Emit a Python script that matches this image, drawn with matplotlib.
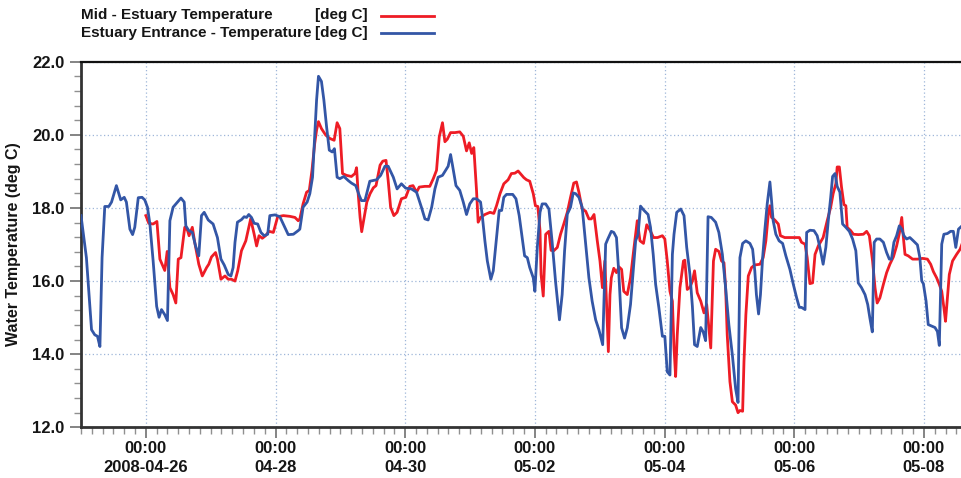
import numpy as np
import pandas as pd
import matplotlib
matplotlib.use('Agg')
import matplotlib.pyplot as plt
import matplotlib.dates as mdates
from matplotlib.lines import Line2D
from matplotlib.ticker import MultipleLocator, FormatStrFormatter, FixedLocator, FuncFormatter

plt.rcParams['font.family'] = ['Liberation Sans', 'DejaVu Sans']
plt.rcParams['font.weight'] = 'bold'

# time axis: hours since 2008-04-26 00:00
t0 = pd.Timestamp('2008-04-26 00:00')

# Estuary Entrance - Temperature (blue)
entrance_hours = [
    -24.0, -22.0, -20.1, -18.9, -17.9, -17.0, -16.2, -15.2, -13.7, -12.7, -10.9, -9.3, -8.0, -7.2,
    -5.9, -4.9, -4.1, -2.8, -1.4, -0.4, 0.6, 1.5, 2.7, 4.0, 4.9, 5.8, 7.0, 8.0, 8.9, 10.1, 11.4,
    13.0, 14.2, 14.8, 15.9, 17.2, 18.4, 19.6, 20.6, 21.6, 23.1, 24.9, 26.5, 27.8, 29.0, 30.5, 31.5,
    32.3, 33.0, 33.9, 35.4, 36.4, 37.3, 38.1, 39.1, 40.1, 41.4, 42.6, 43.8, 45.1, 45.9, 47.8, 49.6,
    51.2, 52.7, 54.6, 56.4,
    57.0, 58.2, 59.7, 60.7, 61.7, 62.5, 63.2, 63.9, 65.0, 65.9, 66.9, 67.9, 69.0, 69.8, 70.8, 71.8,
    73.3, 74.9, 76.1, 77.7, 79.0, 79.8, 81.1, 82.9, 85.4, 86.9, 88.5, 89.7, 91.6, 93.0, 94.6, 96.2,
    98.3, 100.2, 102.0, 103.3, 104.5, 105.8, 107.0, 108.2, 109.8, 111.3, 111.9, 112.8, 113.5, 114.8,
    116.2, 117.5, 118.7, 119.9, 121.2, 122.4, 123.9, 124.6, 125.5, 126.4, 127.7, 128.6, 129.8, 130.8,
    131.7, 132.5, 133.5, 135.8, 137.0, 138.2,
    139.3, 140.2, 141.2, 142.1, 143.4, 144.0, 144.9, 145.9, 146.7, 148.0, 149.2, 150.4, 151.7, 153.1,
    154.1, 155.0, 156.0, 157.2, 158.2, 159.1, 160.3, 161.5, 162.8, 164.0, 165.2, 166.5, 167.7, 169.1,
    170.2, 171.0, 172.3, 173.2, 174.2, 175.1, 176.1, 177.2, 178.2, 179.4, 180.7, 181.3, 182.2, 183.1,
    184.3, 185.9, 186.8, 187.8, 188.7, 189.9, 191.2, 192.1, 193.0, 194.0, 194.9, 195.5, 196.5, 198.0,
    199.2, 200.2, 201.4, 202.3, 203.1, 204.1, 205.4, 206.3, 207.2, 208.1, 209.3, 210.9, 212.1, 213.4,
    214.6, 215.8, 217.1, 218.3, 219.2,
    219.9, 220.9, 222.1, 223.6, 224.6, 225.4, 226.0, 226.8, 227.5, 228.3, 229.1, 230.0, 231.0, 231.6,
    232.2, 233.2, 234.4, 235.7, 236.9, 238.4, 239.6, 240.9, 241.9, 242.7, 244.0, 244.6, 245.8, 247.3,
    248.5, 249.5, 250.7, 251.7, 252.6, 253.5, 254.2, 255.1, 255.9, 256.9, 257.9, 259.1, 260.4, 261.6,
    262.8, 263.7, 264.9, 266.2, 267.2, 268.0, 268.9, 269.6, 270.5, 271.7, 273.0, 274.2, 275.2, 276.0,
    276.9, 277.9, 278.9, 279.8, 280.6, 281.6, 282.8, 284.1, 285.6, 286.5, 287.2, 287.8, 288.8, 289.6,
    290.9, 292.1, 293.0, 293.7, 294.6, 295.4, 296.7, 297.9, 298.9, 299.8, 300.8, 302.1,
]
entrance_temp = [
    17.79, 16.64, 14.67, 14.53, 14.49, 14.21, 16.64, 18.04, 18.04, 18.16, 18.61, 18.22, 18.29, 18.16,
    17.42, 17.27, 17.47, 18.28, 18.29, 18.22, 18.02, 17.56, 16.55, 15.31, 15.01, 15.22, 15.08, 14.92,
    17.65, 18.02, 18.13, 18.27, 18.16, 17.51, 17.38, 17.33, 16.96, 16.69, 17.79, 17.88, 17.67, 17.56,
    17.19, 16.60, 16.44, 16.18, 16.14, 16.37, 17.06, 17.61, 17.68, 17.76, 17.74, 17.82, 17.74, 17.58,
    17.56, 17.33, 17.24, 17.28, 17.79, 17.81, 17.76, 17.51, 17.27, 17.28, 17.38,
    17.42, 18.02, 18.16, 18.39, 18.84, 19.94, 20.95, 21.60, 21.46, 20.95, 20.22, 19.58, 19.53, 19.62,
    18.84, 18.80, 18.86, 18.75, 18.68, 18.61, 18.34, 18.20, 18.20, 18.73, 18.77, 18.89, 19.14, 19.14,
    18.84, 18.52, 18.66, 18.54, 18.52, 18.43, 18.02, 17.70, 17.67, 18.02, 18.52, 18.84, 18.89, 19.07,
    19.14, 19.46, 19.17, 18.61, 18.48, 18.16, 17.82, 18.11, 18.25, 18.25, 18.16, 17.74, 17.10, 16.55,
    16.05, 16.28, 17.19, 17.93, 17.93, 18.29, 18.37, 18.37, 18.25, 17.79,
    17.19, 16.69, 16.64, 16.37, 16.09, 15.72, 16.92, 17.88, 18.11, 18.11, 17.97, 17.06, 15.95, 14.94,
    15.63, 16.83, 17.83, 18.02, 18.41, 18.39, 18.29, 18.02, 17.01, 16.09, 15.45, 14.94, 14.67, 14.26,
    17.01, 17.15, 17.36, 17.33, 17.19, 16.18, 14.72, 14.44, 14.72, 15.36, 16.55, 17.10, 17.28, 18.05,
    17.94, 17.82, 17.47, 16.73, 15.91, 15.27, 14.49, 14.49, 13.52, 13.43, 16.73, 17.28, 17.88, 17.97,
    17.79, 16.92, 16.18, 15.31, 14.26, 14.21, 14.73, 14.61, 14.37, 17.76, 17.74, 17.61, 17.33, 16.73,
    15.82, 14.81, 13.98, 13.06, 12.68,
    16.64, 17.03, 17.10, 17.03, 16.87, 16.28, 15.63, 15.10, 15.63, 16.64, 17.38, 18.11, 18.71, 18.20,
    17.65, 17.28, 17.10, 17.03, 16.69, 16.32, 15.93, 15.54, 15.28, 15.28, 15.22, 17.33, 17.39, 17.38,
    17.24, 16.92, 16.46, 16.92, 17.65, 18.29, 18.86, 18.94, 18.59, 18.43, 17.56, 17.47, 17.36, 17.15,
    16.83, 15.95, 15.82, 15.63, 15.36, 14.99, 14.61, 17.06, 17.15, 17.15, 17.06, 16.78, 16.60, 16.60,
    17.06, 17.24, 17.51, 17.42, 17.24, 17.15, 17.19, 17.10, 16.99, 16.64, 16.00, 15.93, 15.45, 14.81,
    14.77, 14.73, 14.62, 14.24, 17.01, 17.28, 17.30, 17.36, 17.36, 16.92, 17.42, 17.51,
]

# Mid - Estuary Temperature (red)
mid_hours = [
    0.0, 1.1, 2.7, 4.1, 5.2, 6.0, 7.0, 7.9, 8.9, 10.1, 11.1, 12.0, 13.0, 14.4, 15.4, 16.0, 17.2,
    18.1, 19.6, 20.9, 22.5, 23.3, 24.3, 25.8, 26.5, 27.8, 29.3, 30.5, 31.7, 33.0, 34.0, 35.4, 37.0,
    38.8, 40.1, 41.0, 41.9, 43.1, 44.3, 45.6, 47.2, 48.8, 50.9, 53.3, 55.2, 56.4,
    57.0, 58.2, 59.5, 60.5, 61.5, 62.5, 63.2, 63.9, 65.0, 66.6, 68.1, 69.7, 70.8, 71.8, 72.8, 74.3,
    76.1, 77.4, 78.0, 78.6, 79.3, 79.9, 80.8, 81.8, 83.0, 84.2, 85.2, 86.7, 87.7, 88.9, 89.7, 90.6,
    91.8, 93.0, 94.6, 96.2, 97.7, 98.9, 100.2, 101.2, 103.3, 105.1, 106.4, 107.6, 108.6, 109.8, 110.7,
    111.6, 112.8, 114.4, 116.2, 117.5, 118.7, 119.7, 120.6, 121.4, 122.4, 123.0, 123.9, 125.5, 127.4,
    128.8, 129.8, 131.1, 132.5, 134.1, 135.3, 136.6, 137.8,
    139.9, 140.9, 142.1, 143.4, 144.2, 145.1, 145.9, 146.3, 147.1, 148.0, 149.2, 150.0, 151.0, 152.3,
    153.5, 154.7, 156.0, 157.2, 158.4, 159.4, 160.3, 161.5, 162.8, 164.0, 164.9, 165.9, 167.1, 168.1,
    169.0, 169.9, 170.5, 171.2, 171.8, 172.3, 173.2, 174.2, 175.1, 176.1, 176.9, 178.2, 179.4, 180.7,
    181.9, 182.9, 184.2, 185.4, 186.7, 187.9, 189.4, 191.2, 192.1, 193.0, 194.0, 194.9, 195.5, 196.1,
    196.7, 197.7, 199.0, 199.5, 200.4, 201.4, 202.3, 203.1, 204.1, 205.4, 206.6, 207.6, 208.4, 209.1,
    210.1, 210.9, 212.1, 213.1, 214.0, 214.6, 215.2, 216.2, 217.1, 218.3, 219.2,
    219.9, 220.9, 221.4, 222.1, 223.0, 224.2, 225.4, 227.3, 228.5, 229.5, 230.4, 231.0, 231.6, 232.8,
    234.1, 234.9, 236.5, 238.4, 241.9, 242.7, 244.0, 244.8, 245.8, 246.8, 247.7, 248.9, 250.7, 252.2,
    253.5, 254.4, 255.4, 255.9, 256.7, 257.5, 258.4, 259.1, 259.6, 260.9, 261.9, 263.7, 265.6, 266.8,
    267.8, 269.0, 269.9, 270.7, 271.7, 273.0, 274.2, 275.4, 276.7, 277.9, 278.9, 279.8, 280.4, 281.0,
    282.2, 283.8, 285.6, 287.5, 289.3, 290.5, 291.5, 292.7, 293.7, 294.6, 295.4, 296.0, 296.7, 297.4,
    298.6, 300.1, 301.4, 302.1,
]
mid_temp = [
    17.79, 17.58, 17.56, 17.63, 16.60, 16.46, 16.29, 16.81, 15.82, 15.63, 15.40, 16.60, 16.64, 17.47,
    17.39, 17.24, 17.47, 17.06, 16.46, 16.14, 16.37, 16.46, 16.66, 16.78, 16.60, 16.05, 16.14, 16.05,
    16.05, 16.00, 16.28, 16.83, 17.10, 17.70, 17.28, 16.96, 17.24, 17.17, 17.24, 17.36, 17.33, 17.76,
    17.79, 17.77, 17.74, 17.65,
    17.70, 18.11, 18.43, 18.48, 19.03, 19.76, 20.13, 20.36, 20.17, 19.99, 19.90, 19.85, 20.33, 20.17,
    18.94, 18.89, 18.86, 18.94, 19.10, 18.39, 17.74, 17.35, 17.74, 18.16, 18.39, 18.55, 18.61, 19.17,
    19.28, 19.30, 18.75, 18.02, 17.79, 17.88, 18.25, 18.29, 18.59, 18.61, 18.43, 18.57, 18.59, 18.59,
    18.80, 19.03, 19.94, 20.33, 19.81, 19.88, 20.06, 20.06, 20.08, 19.96, 19.56, 19.78, 19.49, 19.65,
    18.48, 17.61, 17.74, 17.82, 17.88, 17.85, 18.06, 18.39, 18.66, 18.77, 18.94, 18.95, 19.01,
    18.83, 18.77, 18.73, 18.39, 18.06, 18.04, 17.38, 16.18, 15.59, 17.28, 17.36, 16.84, 16.83, 16.92,
    17.28, 17.56, 17.88, 18.29, 18.68, 18.71, 18.43, 17.97, 17.91, 17.70, 17.70, 17.82, 17.10, 16.55,
    15.82, 16.55, 15.45, 14.07, 15.63, 16.09, 16.35, 16.23, 16.39, 16.32, 15.72, 15.63, 16.09, 16.92,
    17.65, 17.10, 17.03, 17.54, 17.38, 17.19, 17.19, 17.24, 17.15, 16.55, 15.72, 15.45, 14.17, 13.39,
    14.53, 15.82, 16.55, 16.57, 15.77, 15.83, 16.00, 16.28, 15.68, 15.45, 15.13, 15.36, 14.72, 14.17,
    16.55, 16.87, 16.81, 16.55, 16.50, 15.82, 14.53, 13.25, 12.70, 12.61, 12.40,
    12.46, 12.44, 13.80, 15.08, 16.14, 16.37, 16.44, 16.46, 16.64, 17.10, 17.83, 18.06, 17.74, 17.67,
    17.56, 17.24, 17.19, 17.19, 17.19, 17.06, 17.01, 16.64, 15.93, 15.95, 16.73, 16.96, 17.19, 17.65,
    18.02, 18.39, 18.66, 19.12, 19.12, 18.57, 18.09, 18.06, 17.47, 17.38, 17.28, 17.27, 17.28, 17.36,
    17.24, 16.55, 15.82, 15.40, 15.54, 15.91, 16.23, 16.46, 16.66, 16.96, 17.30, 17.74, 17.19, 16.73,
    16.69, 16.60, 16.60, 16.62, 16.60, 16.46, 16.26, 16.09, 15.91, 15.72, 15.27, 14.90, 15.54, 16.18,
    16.55, 16.73, 16.87, 17.01,
]

major_days = ['2008-04-26', '2008-04-28', '2008-04-30', '2008-05-02',
              '2008-05-04', '2008-05-06', '2008-05-08']

red = '#ee1c25'
blue = '#3356a6'
txt = '#151515'
grid_col = '#9fb6d9'

entrance_t = t0 + pd.to_timedelta(entrance_hours, unit='h')
mid_t = t0 + pd.to_timedelta(mid_hours, unit='h')

fig = plt.figure(figsize=(9.62, 4.78), dpi=100)
ax = fig.add_axes([0.0842, 0.106, 0.9158, 0.765])

ax.plot(mid_t, mid_temp, color=red, lw=2.0, solid_joinstyle='round', zorder=3)
ax.plot(entrance_t, entrance_temp, color=blue, lw=2.0, solid_joinstyle='round', zorder=4)

ax.set_xlim(mdates.date2num(t0 - pd.Timedelta(hours=24)), mdates.date2num(t0 + pd.Timedelta(hours=302.1)))
ax.set_ylim(12, 22)

# y axis
ax.yaxis.set_major_locator(MultipleLocator(2))
ax.yaxis.set_minor_locator(MultipleLocator(0.4))
ax.yaxis.set_major_formatter(FormatStrFormatter('%.1f'))

# x axis
major_nums = [mdates.date2num(pd.Timestamp(d)) for d in major_days]
ax.xaxis.set_major_locator(FixedLocator(major_nums))
ax.xaxis.set_minor_locator(mdates.HourLocator(byhour=range(0, 24, 4)))


def fmt_date(x, pos):
    d = mdates.num2date(x)
    if pos == 0:
        return '00:00\n' + d.strftime('%Y-%m-%d')
    return '00:00\n' + d.strftime('%m-%d')


ax.xaxis.set_major_formatter(FuncFormatter(fmt_date))

ax.grid(True, which='major', color=grid_col, linestyle=(0, (1, 2)), linewidth=0.9)
ax.tick_params(axis='both', which='major', length=8, width=1.2, color='#707070',
               labelsize=12, labelcolor=txt, pad=4)
ax.tick_params(axis='both', which='minor', length=5, width=1.0, color='#909090')
ax.tick_params(axis='x', which='major', pad=2)
for lab in ax.get_xticklabels() + ax.get_yticklabels():
    lab.set_fontweight('bold')
for lab in ax.get_xticklabels():
    lab.set_linespacing(1.3)

for side in ['left', 'bottom']:
    ax.spines[side].set_linewidth(2.0)
    ax.spines[side].set_color('#333333')
ax.spines['top'].set_linewidth(1.6)
ax.spines['top'].set_color('#111111')
ax.spines['right'].set_visible(False)

ax.set_ylabel('Water Temperature (deg C)', fontsize=11.5, fontweight='bold', color=txt, labelpad=8)

# legend at top
fig.text(81 / 962, 1 - 15.5 / 478, 'Mid - Estuary Temperature', fontsize=11, fontweight='bold',
         color=txt, va='center', ha='left')
fig.text(81 / 962, 1 - 33 / 478, 'Estuary Entrance - Temperature', fontsize=11, fontweight='bold',
         color=txt, va='center', ha='left')
fig.text(368 / 962, 1 - 15.5 / 478, '[deg C]', fontsize=11, fontweight='bold',
         color=txt, va='center', ha='right')
fig.text(368 / 962, 1 - 33 / 478, '[deg C]', fontsize=11, fontweight='bold',
         color=txt, va='center', ha='right')
fig.add_artist(Line2D([381 / 962, 434 / 962], [1 - 15.5 / 478, 1 - 15.5 / 478],
                      color=red, lw=2.0, transform=fig.transFigure))
fig.add_artist(Line2D([381 / 962, 434 / 962], [1 - 33 / 478, 1 - 33 / 478],
                      color=blue, lw=2.0, transform=fig.transFigure))

fig.savefig('out.png', dpi=100)
